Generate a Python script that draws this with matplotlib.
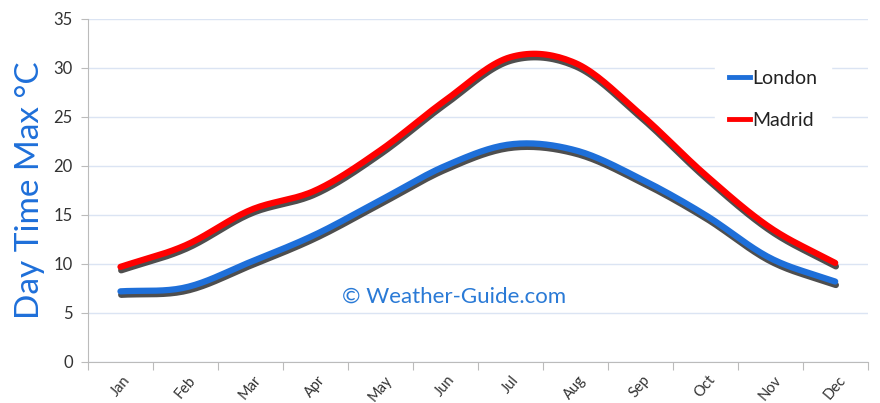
import numpy as np
import matplotlib
matplotlib.use("Agg")
import matplotlib.pyplot as plt
import matplotlib.patheffects as pe
from matplotlib.lines import Line2D

months = ["Jan", "Feb", "Mar", "Apr", "May", "Jun", "Jul", "Aug", "Sep", "Oct", "Nov", "Dec"]
london = [7.2, 7.6, 10.2, 13.0, 16.5, 20.0, 22.2, 21.6, 18.7, 15.0, 10.6, 8.2]
madrid = [9.7, 11.9, 15.5, 17.5, 21.6, 26.7, 31.1, 30.5, 25.3, 19.1, 13.7, 10.1]
yticks = [0, 5, 10, 15, 20, 25, 30, 35]

plt.rcParams['font.family'] = ['Lato', 'DejaVu Sans']

def smooth(x, y, n=20):
    # Catmull-Rom curve through the data points for display
    x = np.asarray(x, float); y = np.asarray(y, float)
    px = np.concatenate([[2*x[0]-x[1]], x, [2*x[-1]-x[-2]]])
    py = np.concatenate([[2*y[0]-y[1]], y, [2*y[-1]-y[-2]]])
    xs, ys = [], []
    t = np.linspace(0, 1, n, endpoint=False)
    for i in range(1, len(px)-2):
        for P, out in ((px, xs), (py, ys)):
            p0, p1, p2, p3 = P[i-1], P[i], P[i+1], P[i+2]
            out.extend(0.5*((2*p1) + (-p0+p2)*t + (2*p0-5*p1+4*p2-p3)*t**2 + (-p0+3*p1-3*p2+p3)*t**3))
    xs.append(x[-1]); ys.append(y[-1])
    return np.array(xs), np.array(ys)

fig = plt.figure(figsize=(8.8, 4.03), dpi=100)
ax = fig.add_axes([0.1, 0.102, 0.886, 0.851])

x = np.arange(len(months)) + 0.5
shadow = [pe.SimpleLineShadow(offset=(0.5, -2.5), shadow_color='#222222', alpha=0.8), pe.Normal()]
for vals, col, lab in ((london, '#1e6fd9', 'London'), (madrid, '#ff0000', 'Madrid')):
    sx, sy = smooth(x, vals)
    ax.plot(sx, sy, color=col, lw=4.5, solid_capstyle='round', path_effects=shadow, zorder=3)

ax.set_xlim(0, 12)
ax.set_ylim(0, 35)
ax.set_yticks(yticks)
ax.set_xticks(np.arange(0, 13))
ax.set_xticklabels([])
ax.set_xticks(x, minor=True)
ax.set_xticklabels(months, minor=True, rotation=50, ha='center', va='top', fontsize=10.5, color='#333333')
ax.tick_params(axis='x', which='minor', length=0, pad=8)
ax.tick_params(axis='x', which='major', length=6, color='#bbbbbb', direction='out')
ax.tick_params(axis='y', length=5, color='#bbbbbb', labelsize=12, labelcolor='#333333', pad=6)
ax.grid(axis='y', color='#dbe4f3', lw=1)
ax.set_axisbelow(True)
for s in ('top', 'right'):
    ax.spines[s].set_visible(False)
for s in ('left', 'bottom'):
    ax.spines[s].set_color('#bbbbbb')

ax.set_ylabel("Day Time Max °C", color='#1e6fd9', fontsize=24, labelpad=6)

handles = [Line2D([], [], color='#1e6fd9', lw=3.5), Line2D([], [], color='#ff0000', lw=3.5)]
leg = ax.legend(handles, ['London', 'Madrid'], loc='upper right', bbox_to_anchor=(0.965, 0.92),
                frameon=True, facecolor='white', edgecolor='white', framealpha=1,
                fontsize=14, handlelength=1.1, handletextpad=0.1, labelspacing=1.3,
                borderpad=0.7)
for t in leg.get_texts():
    t.set_color('#222222')

ax.text(0.47, 0.19, "© Weather-Guide.com", transform=ax.transAxes, ha='center', va='center',
        color='#2a7ad6', fontsize=16)

fig.savefig("out.png", dpi=100)
